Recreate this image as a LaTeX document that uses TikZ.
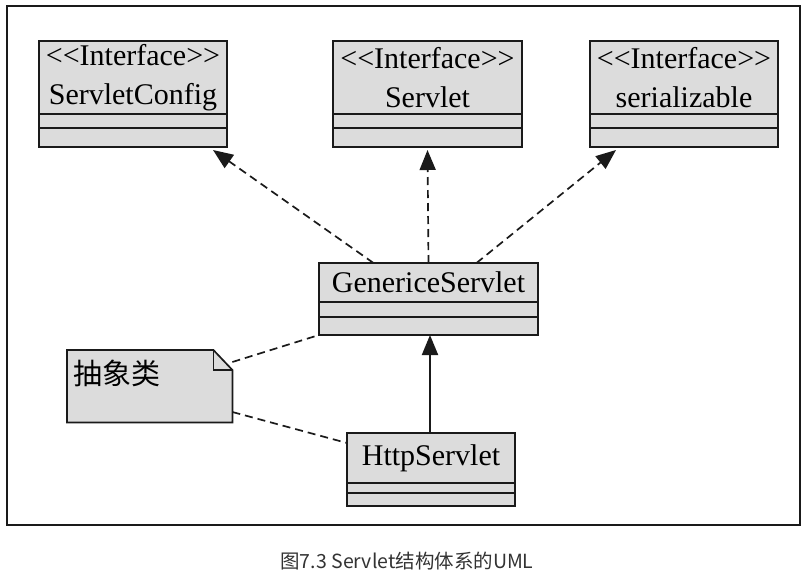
\documentclass[tikz,border=0pt]{standalone}
\usepackage{fontspec}
\setmainfont{Liberation Serif}
\newfontfamily\cjkfont{Noto Sans CJK SC}
\definecolor{umlfill}{HTML}{DCDCDC}
\definecolor{umlline}{HTML}{1A1A1A}
\definecolor{capgray}{HTML}{333333}
\usetikzlibrary{arrows.meta, positioning}
\tikzset{
	chead/.style={draw=umlline, fill=umlfill, line width=1.7pt, outer sep=0pt,
		inner sep=0pt, anchor=north west, align=center, font=\fontsize{30}{39}\selectfont},
	cpart/.style={draw=umlline, fill=umlfill, line width=1.7pt, outer sep=0pt, inner sep=0pt},
	realize/.style={draw=umlline, line width=1.7pt, dash pattern=on 8pt off 5pt,
		-{Triangle[length=20pt, width=16pt]}},
	inherit/.style={draw=umlline, line width=2pt, -{Triangle[length=20pt, width=16pt]}},
	notelink/.style={draw=umlline, line width=1.7pt, dash pattern=on 8pt off 5pt}
}

\begin{document}
\begin{tikzpicture}[x=1pt, y=-1pt]
	\useasboundingbox (0,0) rectangle (809,581);
	\draw[umlline, line width=1.7pt] (7,6) rectangle (800,525);
	% interfaces
	\node[chead, minimum width=188, minimum height=73] (sc) at (39,41) {<{}<Interface>{}>\\ServletConfig};
	\node[cpart, minimum width=188, minimum height=14, below=0pt of sc] (sc1) {};
	\node[cpart, minimum width=188, minimum height=19, below=0pt of sc1] (sc2) {};
	\node[chead, minimum width=189, minimum height=73] (sv) at (333,41) {<{}<Interface>{}>\\Servlet};
	\node[cpart, minimum width=189, minimum height=14, below=0pt of sv] (sv1) {};
	\node[cpart, minimum width=189, minimum height=19, below=0pt of sv1] (sv2) {};
	\node[chead, minimum width=188, minimum height=73] (se) at (590,41) {<{}<Interface>{}>\\serializable};
	\node[cpart, minimum width=188, minimum height=14, below=0pt of se] (se1) {};
	\node[cpart, minimum width=188, minimum height=19, below=0pt of se1] (se2) {};
	% classes
	\node[chead, minimum width=219, minimum height=39] (gs) at (319,263) {GenericeServlet};
	\node[cpart, minimum width=219, minimum height=15, below=0pt of gs] (gs1) {};
	\node[cpart, minimum width=219, minimum height=18, below=0pt of gs1] (gs2) {};
	\node[chead, minimum width=168, minimum height=50] (hs) at (347,433) {\raisebox{-4pt}{HttpServlet}};
	\node[cpart, minimum width=168, minimum height=10, below=0pt of hs] (hs1) {};
	\node[cpart, minimum width=168, minimum height=13, below=0pt of hs1] (hs2) {};
	% note
	\node[anchor=north west, minimum width=165, minimum height=72, inner sep=0pt] (note) at (67,350) {};
	\draw[umlline, fill=umlfill, line width=1.7pt] (note.north west) -- ([xshift=-19]note.north east)
		-- ([yshift=-20]note.north east) -- (note.south east) -- (note.south west) -- cycle;
	\draw[umlline, line width=1.7pt] ([xshift=-19]note.north east) -- ([xshift=-19, yshift=-20]note.north east)
		-- ([yshift=-20]note.north east);
	\node[anchor=north west, inner sep=0pt, font=\cjkfont\fontsize{29}{31}\selectfont] (notetext)
		at ([shift={(6,10)}]note.north west) {抽象类};
	% connectors
	\draw[realize] ([xshift=-55]gs.north) -- ([xshift=80, yshift=-3]sc2.south);
	\draw[realize] (gs.north) -- ([yshift=-3]sv2.south);
	\draw[realize] ([xshift=48]gs.north) -- ([xshift=-68, yshift=-3]se2.south);
	\draw[inherit] (hs.north -| gs2.south) ++(1.5,0) -- ([xshift=1.5]gs2.south);
	\draw[notelink] ([yshift=-12]note.north east) -- (gs2.south west);
	\draw[notelink] ([yshift=-62]note.north east) -- ([yshift=-10]hs.north west);
	% caption
	\node[font=\cjkfont\fontsize{19.5}{22}\selectfont, text=capgray] (caption) at (407,561) {图7.3 Servlet结构体系的UML};
\end{tikzpicture}
\end{document}
